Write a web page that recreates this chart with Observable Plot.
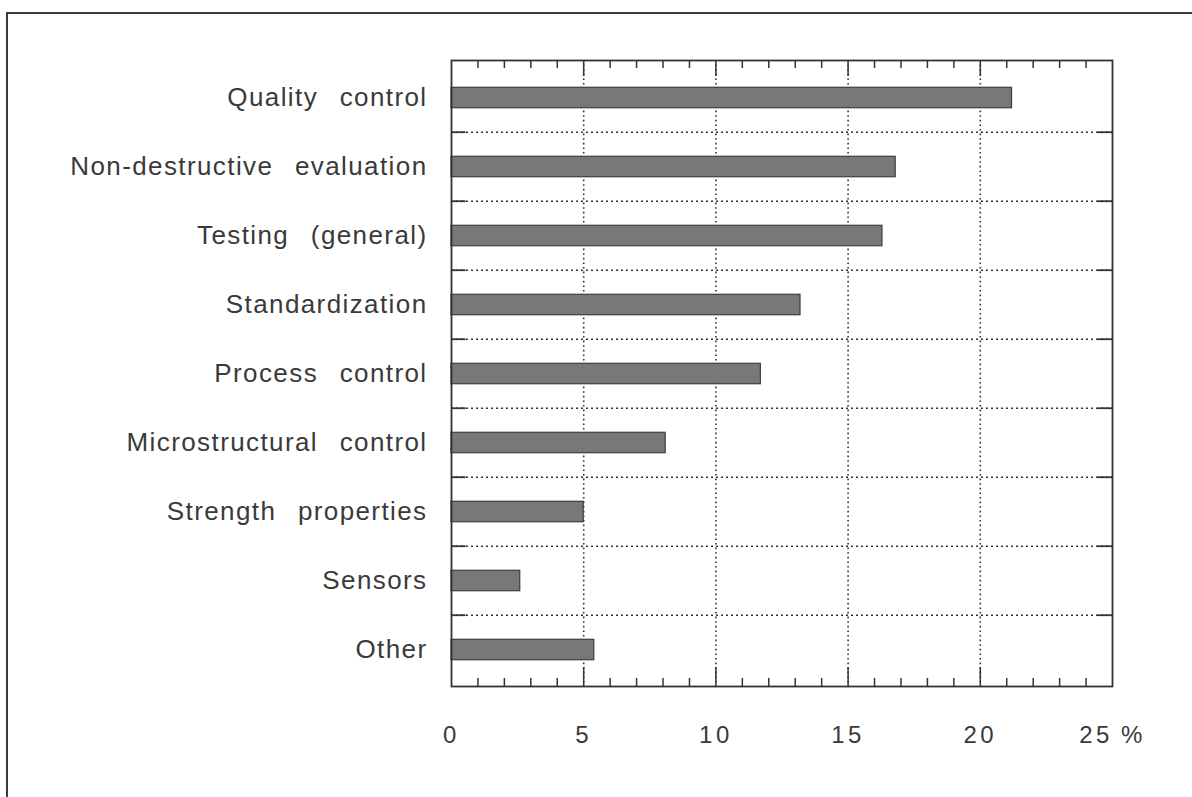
<!DOCTYPE html>
<html><head><meta charset="utf-8">
<script src="https://cdn.jsdelivr.net/npm/d3@7"></script>
<script src="https://cdn.jsdelivr.net/npm/@observablehq/plot@0.6"></script>
<style>
html,body{margin:0;padding:0;background:#fff;}
#wrap{position:relative;width:1192px;height:797px;overflow:hidden;background:#fff;}
#border{position:absolute;left:6px;top:12px;width:1300px;height:900px;border-left:2px solid #3a3a3a;border-top:2px solid #3a3a3a;}
#chart{position:absolute;left:0;top:0;}
#chart svg{color:#3a3a3a;}
#chart g[aria-label="y-axis tick label"] text{font-size:26px;letter-spacing:1.4px;word-spacing:13px;}
#chart g[aria-label="x-axis tick label"] text{font-size:24px;letter-spacing:3.5px;word-spacing:-2px;}
</style></head><body>
<div id="wrap"><div id="border"></div><div id="chart"></div></div>
<script>
const categories = ["Quality control","Non-destructive evaluation","Testing (general)","Standardization","Process control","Microstructural control","Strength properties","Sensors","Other"];
const values = [21.2, 16.8, 16.3, 13.2, 11.7, 8.1, 5.0, 2.6, 5.4];
const xTicks = [0, 5, 10, 15, 20, 25];
const xTickLabels = ["0", "5", "10", "15", "20", "25 %"];
const gridX = [5, 10, 15, 20];
const minorTicks = [1,2,3,4,6,7,8,9,11,12,13,14,16,17,18,19,21,22,23,24];

const data = categories.map((c, i) => ({category: c, value: values[i]}));

const W = 1192, H = 797, mt = 60, mb = 111, ml = 451, mr = 80;
const fh = H - mt - mb;
const bw = fh / categories.length;
const barH = 21;
const inset = (bw - barH) / 2;
const ink = "#333";

const chart = Plot.plot({
  width: W, height: H,
  marginTop: mt, marginBottom: mb, marginLeft: ml, marginRight: mr,
  style: {fontFamily: "'Liberation Sans', Arial, Helvetica, sans-serif", background: "transparent"},
  x: {domain: [0, 25]},
  y: {domain: categories, padding: 0},
  marks: [
    Plot.ruleX(gridX, {stroke: ink, strokeWidth: 1.6, strokeDasharray: "1.6,3"}),
    Plot.ruleY(categories.slice(1), {y: d => d, dy: -bw / 2, stroke: ink, strokeWidth: 1.6, strokeDasharray: "2,3"}),
    Plot.ruleY(categories.slice(1), {y: d => d, dy: -bw / 2, x1: 0, x2: 0.55, stroke: ink, strokeWidth: 1.8}),
    Plot.ruleY(categories.slice(1), {y: d => d, dy: -bw / 2, x1: 24.45, x2: 25, stroke: ink, strokeWidth: 1.8}),
    Plot.barX(data, {x: "value", y: "category", fill: "#787878", stroke: "#3d3d3d", strokeWidth: 1.2, insetTop: inset, insetBottom: inset}),
    Plot.ruleX(minorTicks, {insetBottom: fh - 8, stroke: ink, strokeWidth: 1.5}),
    Plot.ruleX(gridX, {insetBottom: fh - 16, stroke: ink, strokeWidth: 1.5}),
    Plot.ruleX(minorTicks, {insetTop: fh - 8, stroke: ink, strokeWidth: 1.5}),
    Plot.ruleX(gridX, {insetTop: fh - 19, stroke: ink, strokeWidth: 1.5}),
    Plot.frame({stroke: ink, strokeWidth: 1.8}),
    Plot.axisX({ticks: xTicks, tickSize: 0, tickPadding: 39, tickFormat: d => xTickLabels[xTicks.indexOf(d)], label: null}),
    Plot.axisY({tickSize: 0, tickPadding: 24, label: null})
  ]
});
document.getElementById("chart").appendChild(chart);
</script>
</body></html>
